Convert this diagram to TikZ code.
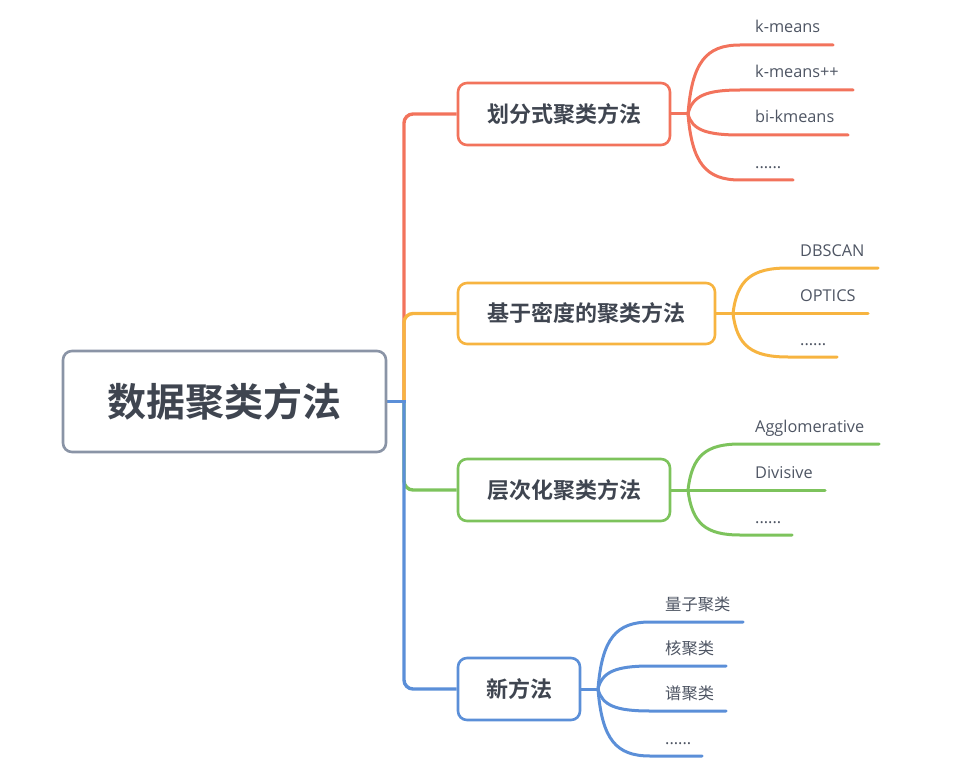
\documentclass[tikz,border=0pt]{standalone}
\usepackage{fontspec}
\usetikzlibrary{backgrounds}
\setmainfont{Open Sans}
\newfontfamily\cjk{Noto Sans CJK SC}[BoldFont={Noto Sans CJK SC Bold}]
\definecolor{cred}{HTML}{F2735C}
\definecolor{corange}{HTML}{F7B440}
\definecolor{cgreen}{HTML}{7DC35C}
\definecolor{cblue}{HTML}{5B8FD8}
\definecolor{cgray}{HTML}{8A94A6}
\definecolor{txt}{HTML}{3F4550}
\definecolor{leaftxt}{HTML}{4E5563}
\begin{document}
\begin{tikzpicture}[x=1pt,y=-1pt,
  box/.style={draw, line width=2.6pt, rounded corners=9pt, fill=white, inner sep=0pt, text=txt},
  lone/.style={box, font=\cjk\bfseries\fontsize{22}{25}\selectfont, minimum height=62pt},
  br/.style={line width=3.4pt, rounded corners=9pt},
  lf/.style={line width=3pt, line cap=round},
  leaf/.style={anchor=base west, inner sep=0pt, text=leaftxt, font=\fontsize{16.3}{18}\selectfont},
  cleaf/.style={leaf, font=\cjk\fontsize{16.3}{18}\selectfont}]
\useasboundingbox (0,0) rectangle (975,765);

% root and level-1 boxes
\node[box, draw=cgray, minimum width=323pt, minimum height=101pt,
      font=\cjk\bfseries\fontsize{39}{42}\selectfont] (root) at (224.5,401.5) {数据聚类方法};
\coordinate (hub) at (404,401.5);

\node[lone, draw=cred, minimum width=212pt] (a) at (564,114) {划分式聚类方法};
\node[lone, draw=corange, minimum width=257pt, minimum height=61pt] (b) at (586.5,313.5) {基于密度的聚类方法};
\node[lone, draw=cgreen, minimum width=212pt] (c) at (564,490) {层次化聚类方法};
\node[lone, draw=cblue, minimum width=122pt] (d) at (519,689) {新方法};

% trunk branches, behind the boxes
\begin{scope}[on background layer]
\draw[br, cred] (hub) -- (hub |- a.west) -- (a.west);
\draw[br, corange] (hub) -- (hub |- b.west) -- (b.west);
\draw[br, cgreen] (hub) -- (hub |- c.west) -- (c.west);
\draw[br, cblue] (hub) -- (hub |- d.west) -- (d.west);
\draw[line width=3.4pt, cblue] (root.east) -- ([xshift=1.7pt]hub);
\end{scope}

% forks
\coordinate (fa) at (688,114);
\coordinate (fb) at (733,313.5);
\coordinate (fc) at (688,490);
\coordinate (fd) at (598,689);
\draw[lf, cred] (a.east) -- (fa);
\draw[lf, corange] (b.east) -- (fb);
\draw[lf, cgreen] (c.east) -- (fc);
\draw[lf, cblue] (d.east) -- (fd);

% red leaves
\foreach \n/\ly/\xe/\t in {a1/45/833/k-means, a2/90/853/k-means++, a3/135/848/bi-kmeans, a4/180/793/{......}}{
  \coordinate (\n e) at (\xe,\ly);
  \node[leaf] (\n) at (755,\ly-12) {\t};
  \draw[lf, cred] (fa) .. controls (692,{114+0.75*(\ly-114)}) and (706,\ly) .. (740,\ly) -- (\n e);
}
% orange leaves
\foreach \n/\ly/\xe/\t in {b1/268/878/DBSCAN, b2/313.5/868/OPTICS, b3/357/837/{......}}{
  \coordinate (\n e) at (\xe,\ly);
  \node[leaf] (\n) at (800,\ly-12) {\t};
  \draw[lf, corange] (fb) .. controls (737,{313.5+0.75*(\ly-313.5)}) and (752,\ly) .. (788,\ly) -- (\n e);
}
% green leaves
\foreach \n/\ly/\xe/\t in {c1/444/879/Agglomerative, c2/490/825/Divisive, c3/535/792/{......}}{
  \coordinate (\n e) at (\xe,\ly);
  \node[leaf] (\n) at (755,\ly-12) {\t};
  \draw[lf, cgreen] (fc) .. controls (692,{490+0.75*(\ly-490)}) and (706,\ly) .. (740,\ly) -- (\n e);
}
% blue leaves
\foreach \n/\ly/\xe/\t/\s in {d1/622/743/量子聚类/cleaf, d2/666/726/核聚类/cleaf, d3/711/726/谱聚类/cleaf, d4/756/702/{......}/leaf}{
  \coordinate (\n e) at (\xe,\ly);
  \node[\s] (\n) at (665,\ly-12) {\t};
  \draw[lf, cblue] (fd) .. controls (602,{689+0.75*(\ly-689)}) and (616,\ly) .. (650,\ly) -- (\n e);
}
\end{tikzpicture}
\end{document}
